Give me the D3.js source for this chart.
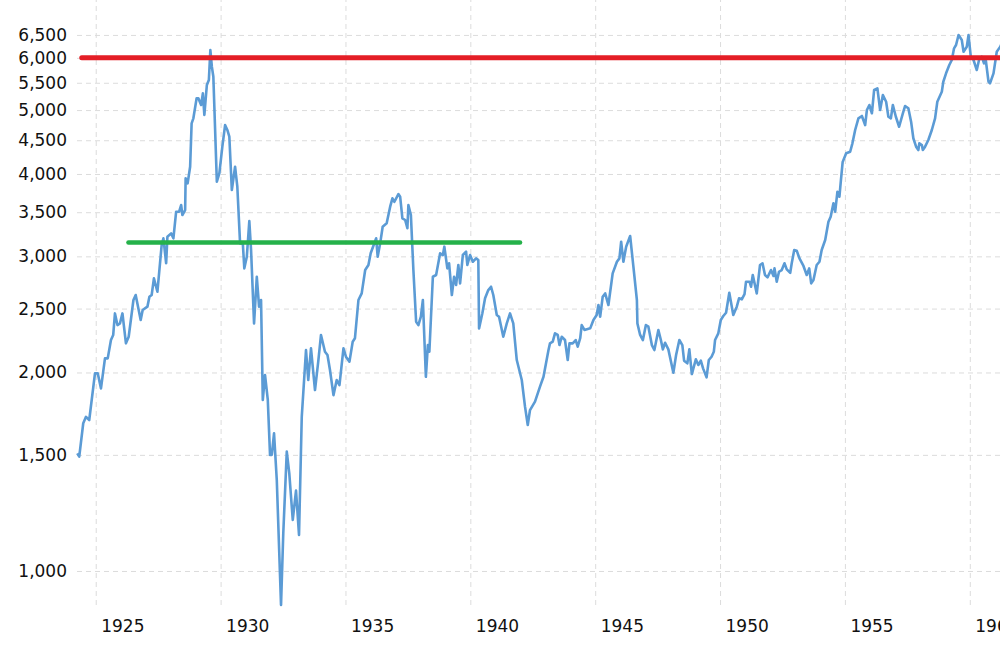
<!DOCTYPE html>
<html>
<head>
<meta charset="utf-8">
<script src="https://cdn.jsdelivr.net/npm/d3@7"></script>
<style>
  html, body { margin: 0; padding: 0; background: #fff; overflow: hidden; }
  svg { display: block; }
  .tick text { font-family: "DejaVu Sans", Verdana, sans-serif; font-size: 17px; fill: #111; }
</style>
</head>
<body>
<svg id="chart" width="1000" height="663"></svg>
<script>
// ---- data (decimal year, inflation-adjusted index value) ----
const years = [
  1924.26,1924.34,1924.50,1924.61,1924.74,1924.97,
  1925.08,1925.21,1925.37,1925.48,1925.61,1925.70,1925.77,1925.87,1925.97,
  1926.07,1926.21,1926.32,1926.51,1926.60,1926.80,1926.88,
  1927.07,1927.15,1927.24,1927.33,1927.47,1927.64,1927.71,1927.82,1927.87,
  1928.02,1928.11,1928.22,1928.34,1928.42,1928.47,1928.58,1928.60,1928.68,1928.78,1928.84,1928.91,
  1929.04,1929.11,1929.22,1929.29,1929.35,1929.45,1929.53,1929.59,1929.65,1929.71,1929.85,1929.95,
  1930.07,1930.18,1930.27,1930.35,1930.45,1930.58,1930.67,1930.78,1930.89,1930.95,
  1931.05,1931.15,1931.22,1931.34,1931.45,1931.54,1931.62,1931.69,1931.78,1931.89,1931.98,
  1932.05,1932.14,1932.25,1932.42,1932.51,1932.65,1932.75,1932.89,
  1933.02,1933.14,1933.25,1933.42,1933.51,1933.62,1933.78,1933.91,
  1934.02,1934.18,1934.28,1934.38,1934.52,1934.65,1934.76,1934.92,
  1935.02,1935.16,1935.29,1935.38,1935.52,1935.65,1935.79,1935.92,
  1936.01,1936.23,1936.29,1936.39,1936.49,1936.65,1936.79,1936.88,1936.96,
  1937.12,1937.19,1937.28,1937.39,1937.48,1937.52,1937.62,1937.72,1937.83,1937.92,
  1938.02,1938.10,1938.22,1938.30,1938.36,1938.50,1938.63,1938.79,1938.90,1938.96,
  1939.08,1939.15,1939.26,1939.35,1939.43,1939.52,1939.59,1939.70,1939.83,1939.88,1939.99,
  1940.10,1940.23,1940.32,1940.35,1940.48,1940.59,1940.72,1940.83,1940.92,
  1941.06,1941.15,1941.32,1941.46,1941.59,1941.72,1941.86,
  1942.06,1942.19,1942.30,1942.39,1942.59,1942.79,1942.93,
  1943.13,1943.19,1943.30,1943.39,1943.50,1943.57,1943.66,1943.79,1943.90,1943.97,
  1944.10,1944.22,1944.30,1944.40,1944.46,1944.57,1944.80,1944.93,
  1945.06,1945.13,1945.20,1945.30,1945.40,1945.53,1945.70,1945.87,1945.97,
  1946.04,1946.13,1946.24,1946.40,1946.53,1946.67,1946.69,1946.80,1946.91,
  1947.03,1947.13,1947.27,1947.37,1947.53,1947.63,1947.71,1947.80,1947.93,
  1948.13,1948.24,1948.37,1948.49,1948.56,1948.69,1948.77,1948.87,
  1949.03,1949.13,1949.23,1949.32,1949.46,1949.55,1949.66,1949.75,1949.80,1949.93,
  1950.03,1950.13,1950.24,1950.37,1950.53,1950.67,1950.76,1950.87,1950.98,
  1951.04,1951.18,1951.24,1951.31,1951.47,1951.60,1951.70,1951.80,1951.90,
  1952.04,1952.14,1952.18,1952.27,1952.36,1952.47,1952.58,1952.67,1952.81,1952.87,1952.97,
  1953.07,1953.18,1953.34,1953.47,1953.57,1953.65,1953.74,1953.87,1953.98,
  1954.07,1954.21,1954.34,1954.43,1954.54,1954.61,1954.70,1954.78,1954.84,1954.91,
  1955.05,1955.21,1955.30,1955.41,1955.54,1955.68,1955.81,1955.88,1955.98,
  1956.08,1956.17,1956.30,1956.41,1956.52,1956.65,1956.74,1956.84,1956.92,
  1957.04,1957.17,1957.32,1957.41,1957.54,1957.65,1957.74,1957.85,1957.94,1957.98,
  1958.08,1958.12,1958.21,1958.34,1958.48,1958.61,1958.70,1958.88,1958.94,
  1959.05,1959.18,1959.28,1959.37,1959.45,1959.55,1959.68,1959.75,1959.88,1959.95,
  1960.04,1960.15,1960.28,1960.37,1960.48,1960.57,1960.64,1960.75,1960.81,1960.95,
  1961.08,1961.22,1961.35
];
const values = [
  1508,1491,1675,1713,1694,1994,
  1994,1892,2101,2101,2240,2280,2458,2360,2374,
  2458,2214,2266,2576,2621,2402,2487,
  2517,2605,2621,2778,2651,3121,3195,2928,3213,
  3251,3195,3506,3506,3589,3466,3527,3940,3871,4103,4774,4858,
  5210,5210,5089,5301,4915,5457,5553,6166,5818,5617,3893,4009,
  4400,4745,4664,4556,3782,4103,3826,3139,3139,2877,
  2996,3394,3067,2374,2794,2517,2576,1817,1982,1817,1500,
  1500,1617,1374,888,1141,1517,1407,1195,
  1324,1134,1713,2163,1948,2176,1881,2077,
  2280,2150,2126,2017,1848,1948,1914,2176,
  2113,2077,2227,2254,2576,2636,2860,2911,
  3032,3195,2996,3139,3327,3367,3568,3674,3630,
  3729,3695,3426,3406,3309,3589,3466,2860,2388,2360,
  2430,2576,1970,2201,2150,2794,2811,3032,3014,3103,
  2877,2928,2621,2794,2714,2911,2730,3014,3049,2911,3014,
  2944,2979,2962,2333,2458,2591,2667,2698,2621,
  2444,2430,2266,2374,2458,2374,2089,
  1948,1775,1665,1754,1806,1903,1970,
  2163,2214,2227,2293,2280,2201,2266,2240,2089,2214,
  2214,2240,2188,2254,2360,2320,2333,2402,
  2444,2531,2430,2605,2636,2531,2827,2944,2979,
  3157,2944,3103,3221,2894,2576,2374,2280,2240,
  2360,2347,2201,2163,2320,2240,2168,2219,2168,
  1998,2126,2240,2201,2084,2065,2168,1989,
  2094,2053,2084,2029,1966,2089,2113,2150,2240,2293,
  2402,2436,2464,2642,2444,2517,2591,2582,2630,
  2746,2746,2698,2811,2636,2911,2928,2811,2788,
  2860,2801,2877,2746,2843,2860,2928,2867,2833,2928,3067,
  3060,2979,2901,2811,2877,2730,2762,2911,2944,
  3067,3176,3386,3446,3610,3506,3760,3695,3916,4171,
  4299,4323,4452,4664,4858,4898,4745,5001,5089,
  4944,5363,5394,5001,5270,5148,4885,4858,5089,
  4885,4717,4944,5072,5031,4801,4531,4400,4349,4452,
  4426,4349,4400,4504,4664,4858,5148,5331,5520,
  5684,5852,5955,6203,6275,6498,6386,6130,6238,6498,
  6024,5955,5750,5955,6024,5887,5955,5520,5489,5684,
  6130,6238,6400
];
const yTicks = [1000,1500,2000,2500,3000,3500,4000,4500,5000,5500,6000,6500];
const xTicks = [1925,1930,1935,1940,1945,1950,1955,1960];
const redLevel = 6000,   redSpan = [1924.44, 1962];
const greenLevel = 3150, greenSpan = [1926.31, 1941.99];

// ---- layout ----
const plotLeft = 77, plotRight = 1001, plotTop = 0, plotBottom = 605;
const svg = d3.select("#chart");

const x = d3.scaleLinear().domain([1924.25, 1961.25]).range([plotLeft, plotRight]);
const y = d3.scaleLog().domain([888, 7216]).range([plotBottom, 5]);

// horizontal grid + y labels
const yAxis = d3.axisLeft(y).tickValues(yTicks).tickFormat(d3.format(","))
  .tickSizeInner(-(1000 - plotLeft)).tickSizeOuter(0).tickPadding(10);
const gy = svg.append("g").attr("transform", `translate(${plotLeft},0)`).call(yAxis);
gy.select(".domain").remove();
gy.selectAll(".tick line").attr("stroke", "#dcdcdc").attr("stroke-dasharray", "5,4");

// vertical grid + x labels
const xAxis = d3.axisBottom(x).tickValues(xTicks).tickFormat(d3.format("d"))
  .tickSizeInner(-(plotBottom - plotTop)).tickSizeOuter(0);
const gx = svg.append("g").attr("transform", `translate(0,${plotBottom})`).call(xAxis);
gx.select(".domain").remove();
gx.selectAll(".tick line").attr("stroke", "#dcdcdc").attr("stroke-dasharray", "5,4");
gx.selectAll(".tick text").attr("text-anchor", "start").attr("x", 5).attr("y", 27).attr("dy", 0);

// series line
const line = d3.line().x(d => x(d[0])).y(d => y(d[1]));
const series = years.map((yr, i) => [yr, values[i]]);
svg.append("path").datum(series)
  .attr("fill", "none").attr("stroke", "#5b9bd5").attr("stroke-width", 2.6)
  .attr("stroke-linejoin", "round").attr("d", line);

// reference levels
svg.append("line")
  .attr("x1", x(redSpan[0])).attr("x2", x(redSpan[1]))
  .attr("y1", y(redLevel)).attr("y2", y(redLevel))
  .attr("stroke", "#e41e26").attr("stroke-width", 5).attr("stroke-linecap", "round");
svg.append("line")
  .attr("x1", x(greenSpan[0])).attr("x2", x(greenSpan[1]))
  .attr("y1", y(greenLevel)).attr("y2", y(greenLevel))
  .attr("stroke", "#25b14a").attr("stroke-width", 4.5).attr("stroke-linecap", "round");
</script>
</body>
</html>
